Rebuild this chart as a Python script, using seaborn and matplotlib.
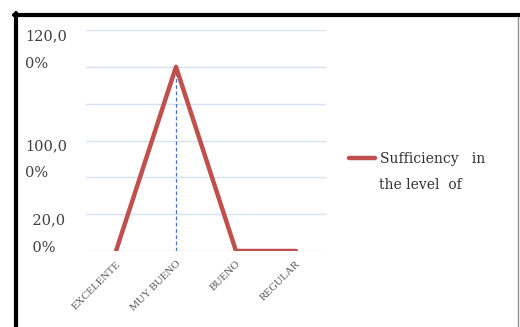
import seaborn as sns
import pandas as pd
import matplotlib.pyplot as plt
import numpy as np
from matplotlib.lines import Line2D

sns.set_theme(style='white')
plt.rcParams['font.family'] = ['DejaVu Serif', 'Liberation Serif']

# data
categories = ['EXCELENTE', 'MUY BUENO', 'BUENO', 'REGULAR']
values = [0, 100, 0, 0]
series_name = 'Sufficiency   in'
series_name2 = 'the level  of'
grid_ticks = [0, 20, 40, 60, 80, 100, 120]
label_pos = [113.5, 54, 13.5]
label_txt = ['120,0\n0%', '100,0\n0%', '\u200220,0\n\u20020%']

df = pd.DataFrame({'cat': categories, 'val': values})

fig = plt.figure(figsize=(5.2, 3.27), dpi=100)
ax = fig.add_axes([86 / 520, 1 - 251 / 327, 240 / 520, 221 / 327])

sns.lineplot(data=df, x='cat', y='val', ax=ax, color='#C0504D', lw=3.2,
             label=series_name, sort=False)

# drop line at the peak
peak = int(np.argmax(values))
ax.vlines(peak, 0, values[peak], colors='#4472C4', linestyles=(0, (3, 2)), lw=0.9, zorder=1)

ax.set_xlim(-0.5, len(categories) - 0.5)
ax.set_ylim(0, 120)
ax.set_yticks(grid_ticks)
ax.set_yticklabels([])
ax.set_yticks(label_pos, minor=True)
ax.set_yticklabels(label_txt, minor=True, ha='left', fontsize=10.5,
                   color='#404040', linespacing=2.2)
ax.tick_params(axis='y', which='both', length=0, pad=44)
ax.grid(axis='y', color='#D6E2F3', lw=1)
ax.grid(axis='x', visible=False)
for s in ax.spines.values():
    s.set_visible(False)

ax.set_xlabel('')
ax.set_ylabel('')
ax.tick_params(axis='x', length=0, pad=6)
for t in ax.get_xticklabels():
    t.set_rotation(45)
    t.set_ha('right')
    t.set_rotation_mode('anchor')
    t.set_fontsize(8)
    t.set_family(['Liberation Serif'])
    t.set_color('#595959')

leg = ax.legend(loc='center left', bbox_to_anchor=(342 / 520, 1 - 159 / 327),
                bbox_transform=fig.transFigure, frameon=False, fontsize=10,
                handlelength=1.9, handletextpad=0.3, borderpad=0)
for t in leg.get_texts():
    t.set_color('#333333')
fig.text(379 / 520, 1 - 185 / 327, series_name2, fontsize=10, color='#333333',
         va='center', ha='left')

# outer frame
fig.add_artist(Line2D([14 / 520, 1], [1 - 15 / 327] * 2, color='black', lw=3))
fig.add_artist(Line2D([16 / 520] * 2, [0, 1 - 13 / 327], color='black', lw=3))
fig.add_artist(Line2D([518 / 520] * 2, [0, 1 - 17 / 327], color='#909090', lw=1))

fig.savefig('out.png', dpi=100)
